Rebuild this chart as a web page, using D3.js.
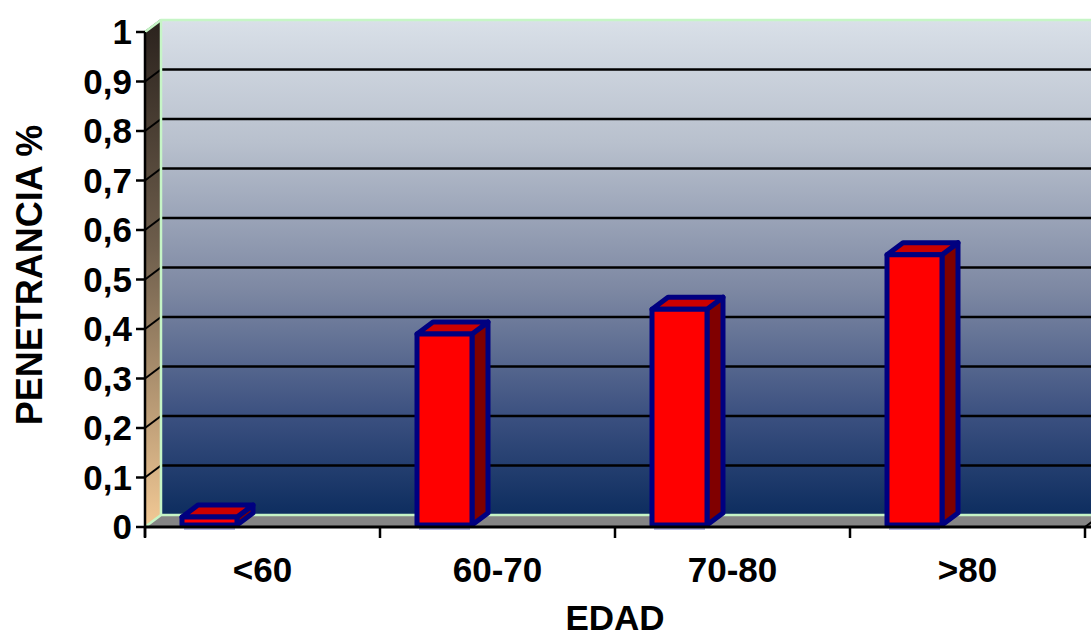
<!DOCTYPE html>
<html>
<head>
<meta charset="utf-8">
<script src="https://cdn.jsdelivr.net/npm/d3@7/dist/d3.min.js"></script>
<style>
  html, body { margin: 0; padding: 0; background: #ffffff; }
  svg { display: block; }
  text { font-family: Arial, "Liberation Sans", sans-serif; font-weight: bold; fill: #000; }
</style>
</head>
<body>
<svg id="chart" width="1091" height="638"></svg>
<script>
// Penetrance by age group
const categories = ["<60", "60-70", "70-80", ">80"];
const values = [0.02, 0.39, 0.44, 0.55];
const yTicks = [0, 0.1, 0.2, 0.3, 0.4, 0.5, 0.6, 0.7, 0.8, 0.9, 1];
const yTickLabels = ["0", "0,1", "0,2", "0,3", "0,4", "0,5", "0,6", "0,7", "0,8", "0,9", "1"];

const svg = d3.select("#chart");
const W = 1091, H = 638;

// plot frame (front plane) and 3D depth offset
const x0 = 145, x1 = 1085, yTop = 32, yBot = 527;
const dx = 16, dy = -12;

const x = d3.scaleBand().domain(categories).range([x0, x1]).paddingInner(0).paddingOuter(0);
const y = d3.scaleLinear().domain([0, 1]).range([yBot, yTop]);

const defs = svg.append("defs");
const wallGrad = defs.append("linearGradient").attr("id", "wallGrad")
  .attr("x1", 0).attr("y1", 0).attr("x2", 0).attr("y2", 1);
[[0, "#d9e0e8"], [0.25, "#b8c0cd"], [0.55, "#7c87a2"], [0.8, "#3b5080"], [1, "#0d2d5f"]]
  .forEach(([o, c]) => wallGrad.append("stop").attr("offset", o).attr("stop-color", c));
const sideGrad = defs.append("linearGradient").attr("id", "sideGrad")
  .attr("x1", 0).attr("y1", 0).attr("x2", 0).attr("y2", 1);
[[0, "#2a221d"], [0.45, "#6e5e4c"], [1, "#f2c995"]]
  .forEach(([o, c]) => sideGrad.append("stop").attr("offset", o).attr("stop-color", c));

// back wall
svg.append("rect")
  .attr("x", x0 + dx).attr("y", y(1) + dy)
  .attr("width", W - (x0 + dx) + 2).attr("height", y(0) - y(1))
  .attr("fill", "url(#wallGrad)");

// left side wall
svg.append("path")
  .attr("d", `M${x0},${y(1)} L${x0 + dx},${y(1) + dy} L${x0 + dx},${y(0) + dy} L${x0},${y(0)} Z`)
  .attr("fill", "url(#sideGrad)");

// floor
svg.append("path")
  .attr("d", `M${x0},${y(0)} L${x0 + dx},${y(0) + dy} L${W + 2},${y(0) + dy} L${W + 2},${y(0)} Z`)
  .attr("fill", "#858585");

// gridlines on back wall and left wall
const grid = svg.append("g");
yTicks.filter(v => v > 0 && v < 1).forEach(v => {
  grid.append("line")
    .attr("x1", x0 + dx).attr("x2", W + 2)
    .attr("y1", y(v) + dy).attr("y2", y(v) + dy)
    .attr("stroke", "#000").attr("stroke-width", 2.5);
});
yTicks.filter(v => v > 0).forEach(v => {
  grid.append("line")
    .attr("x1", x0).attr("x2", x0 + dx)
    .attr("y1", y(v)).attr("y2", y(v) + dy)
    .attr("stroke", "#000").attr("stroke-width", 2);
});

// wall edges in pale green
const edge = "#c6f5c6";
svg.append("path")
  .attr("d", `M${x0},${y(1)} L${x0 + dx},${y(1) + dy} L${W + 2},${y(1) + dy}`)
  .attr("fill", "none").attr("stroke", edge).attr("stroke-width", 2.5);
svg.append("line")
  .attr("x1", x0 + dx).attr("x2", x0 + dx).attr("y1", y(1) + dy).attr("y2", y(0) + dy)
  .attr("stroke", edge).attr("stroke-width", 2.5);
svg.append("path")
  .attr("d", `M${x0},${y(0)} L${x0 + dx},${y(0) + dy} L${W + 2},${y(0) + dy}`)
  .attr("fill", "none").attr("stroke", edge).attr("stroke-width", 2.5);

// 3D columns
const barOff = 37, barW = 55;
const bars = svg.append("g");
categories.forEach((c, i) => {
  const bx = x(c) + barOff, by = y(values[i]), bb = y(0) - 2;
  const g = bars.append("g");
  // faint shadow line under the column
  g.append("line")
    .attr("x1", bx + 2).attr("x2", bx + barW - 2)
    .attr("y1", bb + 4).attr("y2", bb + 4)
    .attr("stroke", "#6f78c8").attr("stroke-width", 1.2);
  const sw = 5, sc = "#000080";
  // side face
  g.append("path")
    .attr("d", `M${bx + barW},${by} L${bx + barW + dx},${by + dy} L${bx + barW + dx},${bb + dy} L${bx + barW},${bb} Z`)
    .attr("fill", "#800000").attr("stroke", sc).attr("stroke-width", sw).attr("stroke-linejoin", "round");
  // top face
  g.append("path")
    .attr("d", `M${bx},${by} L${bx + dx},${by + dy} L${bx + barW + dx},${by + dy} L${bx + barW},${by} Z`)
    .attr("fill", "#cc0000").attr("stroke", sc).attr("stroke-width", sw).attr("stroke-linejoin", "round");
  // front face
  g.append("rect")
    .attr("x", bx).attr("y", by).attr("width", barW).attr("height", bb - by)
    .attr("fill", "#ff0000").attr("stroke", sc).attr("stroke-width", sw).attr("stroke-linejoin", "round");
});

// y axis
const yAxis = svg.append("g");
yAxis.append("line").attr("x1", x0).attr("x2", x0).attr("y1", y(1)).attr("y2", y(0) + 10)
  .attr("stroke", "#000").attr("stroke-width", 2.5);
yTicks.forEach((v, i) => {
  yAxis.append("line").attr("x1", x0 - 9).attr("x2", x0).attr("y1", y(v)).attr("y2", y(v))
    .attr("stroke", "#000").attr("stroke-width", 2.5);
  yAxis.append("text").attr("x", x0 - 13).attr("y", y(v) + 12)
    .attr("text-anchor", "end").attr("font-size", 35).text(yTickLabels[i]);
});

// x axis
const xAxis = svg.append("g");
xAxis.append("line").attr("x1", x0).attr("x2", W).attr("y1", y(0)).attr("y2", y(0))
  .attr("stroke", "#000").attr("stroke-width", 3);
xAxis.append("line").attr("x1", x1).attr("x2", x1 + dx).attr("y1", y(0)).attr("y2", y(0) + dy)
  .attr("stroke", "#000").attr("stroke-width", 2);
x.domain().concat(["end"]).forEach(c => {
  const tx = c === "end" ? x1 : x(c);
  xAxis.append("line").attr("x1", tx).attr("x2", tx).attr("y1", y(0)).attr("y2", y(0) + 11)
    .attr("stroke", "#000").attr("stroke-width", 2.5);
});
categories.forEach(c => {
  xAxis.append("text").attr("x", x(c) + x.bandwidth() / 2).attr("y", 582)
    .attr("text-anchor", "middle").attr("font-size", 35).text(c);
});

// axis titles
svg.append("text").attr("x", 615).attr("y", 630).attr("text-anchor", "middle")
  .attr("font-size", 35).text("EDAD");
svg.append("text").attr("transform", "translate(42,275) rotate(-90)")
  .attr("text-anchor", "middle").attr("font-size", 36).text("PENETRANCIA %");
</script>
</body>
</html>
